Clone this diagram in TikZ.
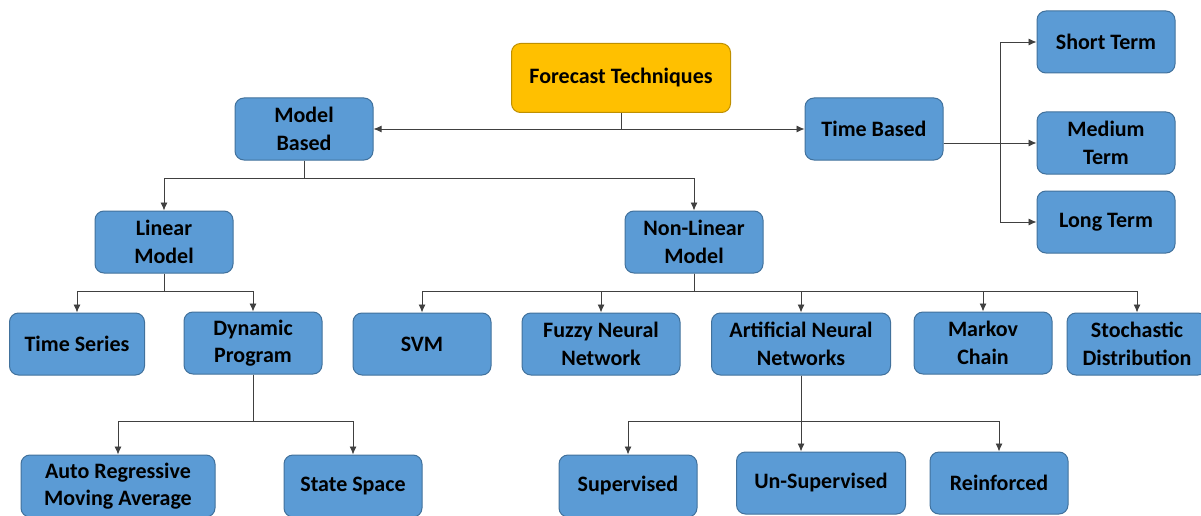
\documentclass[tikz,border=0pt]{standalone}
\usepackage{fontspec}
\setmainfont{Carlito}
\usetikzlibrary{arrows.meta}
\definecolor{boxblue}{HTML}{5B9BD5}
\definecolor{boxedge}{HTML}{41719C}
\definecolor{topfill}{HTML}{FFC000}
\definecolor{topedge}{HTML}{BF9000}
\tikzstyle{technique} = [rectangle, draw=boxedge, rounded corners=9pt, fill=boxblue, text centered, align=center, line width=1pt, minimum width=138pt, minimum height=62pt, inner sep=2pt, font=\bfseries\fontsize{22}{27.5}\selectfont]
\tikzstyle{root} = [technique, draw=topedge, fill=topfill, minimum width=219pt, minimum height=69pt]
\tikzstyle{flow} = [draw=black!75, line width=0.9pt, >={Latex[length=8pt,width=7pt]}]

\begin{document}
\begin{tikzpicture}[x=1pt, y=-1pt]
            \useasboundingbox (0,0) rectangle (1201,516);
            \node[root] (forecast) at (621,78) {Forecast Techniques};
            \node[technique] (model) at (304,129) {Model\\Based};
            \node[technique] (time) at (874,129) {Time Based};
            \node[technique] (short) at (1106,42) {Short Term};
            \node[technique] (medium) at (1106,143) {Medium\\Term};
            \node[technique] (long) at (1106,222) {Long Term};
            \node[technique] (linear) at (164,242) {Linear\\Model};
            \node[technique] (nonlinear) at (694,242) {Non-Linear\\Model};
            \node[technique, minimum width=135pt] (series) at (77,344) {Time Series};
            \node[technique] (dynamic) at (253,343) {Dynamic\\Program};
            \node[technique] (svm) at (422,344) {SVM};
            \node[technique, minimum width=158pt] (fuzzy) at (601,344) {Fuzzy Neural\\Network};
            \node[technique, minimum width=179pt] (ann) at (801,344) {Artificial Neural\\Networks};
            \node[technique] (markov) at (983,343) {Markov\\Chain};
            \node[technique, minimum width=140pt] (stochastic) at (1137,344) {Stochastic\\Distribution};
            \node[technique, minimum width=194pt] (arma) at (118,486) {Auto Regressive\\Moving Average};
            \node[technique] (state) at (353,486) {State Space};
            \node[technique] (supervised) at (628,486) {Supervised};
            \node[technique, minimum width=169pt] (unsupervised) at (821,483) {Un-Supervised};
            \node[technique] (reinforced) at (999,483) {Reinforced};

            \path [flow, ->] (forecast.south) |- (model.east);
            \path [flow, ->] (forecast.south) |- (time.west);
            \path [flow, ->] (time.east |- medium.west) -- (medium.west);
            \path [flow, ->] (time.east |- medium.west) -- ++(57,0) |- (short.west);
            \path [flow, ->] (time.east |- medium.west) -- ++(57,0) |- (long.west);
            \path [flow, ->] (model.south) -- ++(0,18) -| (linear.north);
            \path [flow, ->] (model.south) -- ++(0,18) -| (nonlinear.north);
            \path [flow, ->] (linear.south) -- ++(0,18) -| (series.north);
            \path [flow, ->] (linear.south) -- ++(0,18) -| (dynamic.north);
            \foreach \child in {svm, fuzzy, ann, markov, stochastic}
                \path [flow, ->] (nonlinear.south) -- ++(0,18) -| (\child.north);
            \path [flow, ->] (dynamic.south) -- ++(0,47) -| (arma.north);
            \path [flow, ->] (dynamic.south) -- ++(0,47) -| (state.north);
            \foreach \child in {supervised, reinforced}
                \path [flow, ->] (ann.south) -- ++(0,46) -| (\child.north);
            \path [flow, ->] (ann.south) -- (ann.south |- unsupervised.north);
        \end{tikzpicture}
\end{document}
